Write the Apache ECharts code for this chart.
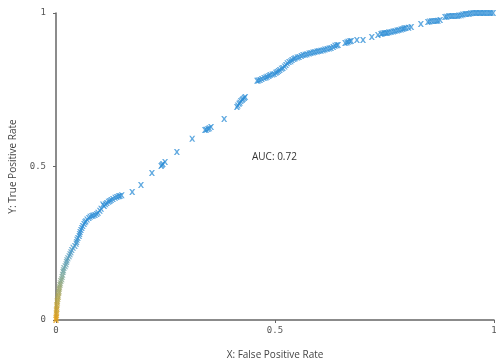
<!DOCTYPE html>
<html>
<head>
<meta charset="utf-8">
<script src="https://cdn.jsdelivr.net/npm/echarts@6/dist/echarts.min.js"></script>
<style>
  html, body { margin: 0; padding: 0; background: #fff; }
  #chart { width: 496px; height: 360px; }
</style>
</head>
<body>
<div id="chart"></div>
<script>
// ROC points: false positive rate / true positive rate
const fpr = [
  0, 0.001, 0.001, 0.002, 0.002, 0.003, 0.005, 0.006, 0.007, 0.009,
  0.011, 0.014, 0.016, 0.018, 0.023, 0.025, 0.030, 0.034, 0.039, 0.046,
  0.048, 0.053, 0.055, 0.059, 0.064, 0.068, 0.075, 0.082, 0.089, 0.096,
  0.103, 0.110, 0.116, 0.123, 0.130, 0.139, 0.146,
  0.174, 0.194, 0.219, 0.240, 0.244, 0.249, 0.276, 0.311,
  0.340, 0.347, 0.354, 0.384, 0.413, 0.418, 0.422, 0.427, 0.432,
  0.459, 0.466, 0.475, 0.482, 0.489, 0.498, 0.505, 0.511, 0.518, 0.525,
  0.532, 0.539, 0.546, 0.555, 0.564, 0.573, 0.582, 0.591, 0.600, 0.610,
  0.619, 0.628, 0.637, 0.644, 0.660, 0.667, 0.674, 0.687, 0.701,
  0.721, 0.735, 0.742, 0.749, 0.756, 0.765, 0.774, 0.783, 0.792, 0.799,
  0.811, 0.833, 0.849, 0.858, 0.868, 0.877,
  0.888, 0.897, 0.906, 0.916, 0.925, 0.934, 0.943, 0.952, 0.961, 0.970,
  0.979, 0.989, 0.998,
  // dense band readings
  0.000, 0.001, 0.001, 0.002, 0.003, 0.004, 0.005, 0.007, 0.008, 0.010,
  0.013, 0.015, 0.017, 0.021, 0.024, 0.027, 0.032, 0.036, 0.043, 0.047,
  0.050, 0.054, 0.057, 0.061, 0.066, 0.071, 0.078, 0.085, 0.093, 0.100,
  0.107, 0.113, 0.120, 0.126, 0.135, 0.143, 0.150,
  0.242, 0.343, 0.350, 0.415, 0.420, 0.425, 0.430,
  0.462, 0.470, 0.479, 0.486, 0.494, 0.502, 0.508, 0.515, 0.522, 0.528,
  0.536, 0.543, 0.551, 0.560, 0.569, 0.578, 0.587, 0.596, 0.605, 0.614,
  0.624, 0.633, 0.641, 0.664, 0.671, 0.745, 0.753, 0.760, 0.770, 0.779,
  0.788, 0.795, 0.805, 0.853, 0.863, 0.872, 0.892, 0.902, 0.911, 0.920,
  0.929, 0.938, 0.947, 0.957, 0.966, 0.975, 0.984, 0.993
];
const tpr = [
  0, 0.010, 0.023, 0.036, 0.049, 0.062, 0.075, 0.088, 0.101, 0.114,
  0.127, 0.140, 0.156, 0.169, 0.182, 0.195, 0.208, 0.221, 0.235, 0.248,
  0.261, 0.274, 0.287, 0.300, 0.313, 0.322, 0.332, 0.339, 0.342, 0.349,
  0.362, 0.371, 0.381, 0.388, 0.394, 0.401, 0.404,
  0.417, 0.440, 0.479, 0.502, 0.508, 0.515, 0.547, 0.590,
  0.619, 0.622, 0.629, 0.655, 0.694, 0.704, 0.713, 0.720, 0.726,
  0.779, 0.782, 0.788, 0.792, 0.798, 0.801, 0.808, 0.814, 0.821, 0.831,
  0.840, 0.847, 0.853, 0.857, 0.863, 0.866, 0.870, 0.873, 0.876, 0.879,
  0.883, 0.886, 0.893, 0.896, 0.902, 0.906, 0.909, 0.912, 0.912,
  0.922, 0.928, 0.932, 0.935, 0.935, 0.938, 0.941, 0.945, 0.948, 0.951,
  0.954, 0.964, 0.971, 0.974, 0.974, 0.977,
  0.987, 0.990, 0.990, 0.990, 0.993, 0.997, 0.997, 1.0, 1.0, 1.0,
  1.0, 1.0, 1.0,
  // dense band readings
  0.005, 0.017, 0.030, 0.043, 0.056, 0.068, 0.081, 0.094, 0.107, 0.120,
  0.133, 0.147, 0.162, 0.175, 0.189, 0.201, 0.214, 0.228, 0.241, 0.254,
  0.267, 0.280, 0.293, 0.306, 0.318, 0.327, 0.336, 0.340, 0.345, 0.356,
  0.376, 0.377, 0.385, 0.391, 0.398, 0.403, 0.406,
  0.505, 0.620, 0.625, 0.699, 0.708, 0.717, 0.723,
  0.780, 0.785, 0.790, 0.795, 0.800, 0.805, 0.811, 0.818, 0.826, 0.836,
  0.843, 0.850, 0.855, 0.860, 0.864, 0.868, 0.871, 0.875, 0.877, 0.881,
  0.884, 0.889, 0.895, 0.904, 0.908, 0.933, 0.935, 0.937, 0.940, 0.943,
  0.946, 0.950, 0.952, 0.972, 0.974, 0.975, 0.988, 0.990, 0.990, 0.992,
  0.995, 0.997, 0.999, 1.0, 1.0, 1.0, 1.0, 1.0
];
const xTicks = [0, 0.5, 1];
const yTicks = [0, 0.5, 1];
const aucText = 'AUC: 0.72';

const CROSS = 'path://M0,0L2.5,0L5,3L7.5,0L10,0L6.5,5L10,10L7.5,10L5,7L2.5,10L0,10L3.5,5Z';

const chart = echarts.init(document.getElementById('chart'));
chart.setOption({
  backgroundColor: '#ffffff',
  animation: false,
  grid: { left: 56, right: 2, top: 13, bottom: 40, outerBoundsMode: 'none', containLabel: false },
  xAxis: {
    type: 'value', min: 0, max: 1, interval: 0.5,
    name: 'X: False Positive Rate', nameLocation: 'middle', nameGap: 30,
    nameTextStyle: { fontFamily: 'Open Sans', fontSize: 10, color: '#444' },
    axisLine: { show: true, lineStyle: { color: '#666', width: 1.5 } },
    axisTick: { show: true, length: 3, lineStyle: { color: '#666' } },
    splitLine: { show: false },
    axisLabel: {
      fontFamily: 'DejaVu Sans Mono', fontSize: 9, color: '#555', margin: 6,
      formatter: v => xTicks.includes(v) ? String(v) : ''
    }
  },
  yAxis: {
    type: 'value', min: 0, max: 1, interval: 0.5,
    name: 'Y: True Positive Rate', nameLocation: 'middle', nameGap: 38,
    nameTextStyle: { fontFamily: 'Open Sans', fontSize: 10, color: '#444' },
    axisLine: { show: true, lineStyle: { color: '#666', width: 1.5 } },
    axisTick: { show: true, length: 3, lineStyle: { color: '#666' } },
    splitLine: { show: false },
    axisLabel: {
      fontFamily: 'DejaVu Sans Mono', fontSize: 9, color: '#555', margin: 10,
      formatter: v => yTicks.includes(v) ? String(v) : ''
    }
  },
  visualMap: {
    show: false, type: 'continuous', dimension: 1, min: 0, max: 0.3,
    inRange: { color: ['#e8a317', '#b0a550', '#7aa8a0', '#4a9ac8', '#2e8ed6'] }
  },
  graphic: [{
    type: 'text', left: 252, top: 152,
    style: { text: aucText, font: '10px "Open Sans"', fill: '#333' }
  }],
  series: [{
    type: 'scatter',
    symbol: CROSS,
    symbolSize: 6,
    itemStyle: { opacity: 0.75 },
    data: fpr.map((x, i) => [x, tpr[i]])
  }]
});
</script>
</body>
</html>
